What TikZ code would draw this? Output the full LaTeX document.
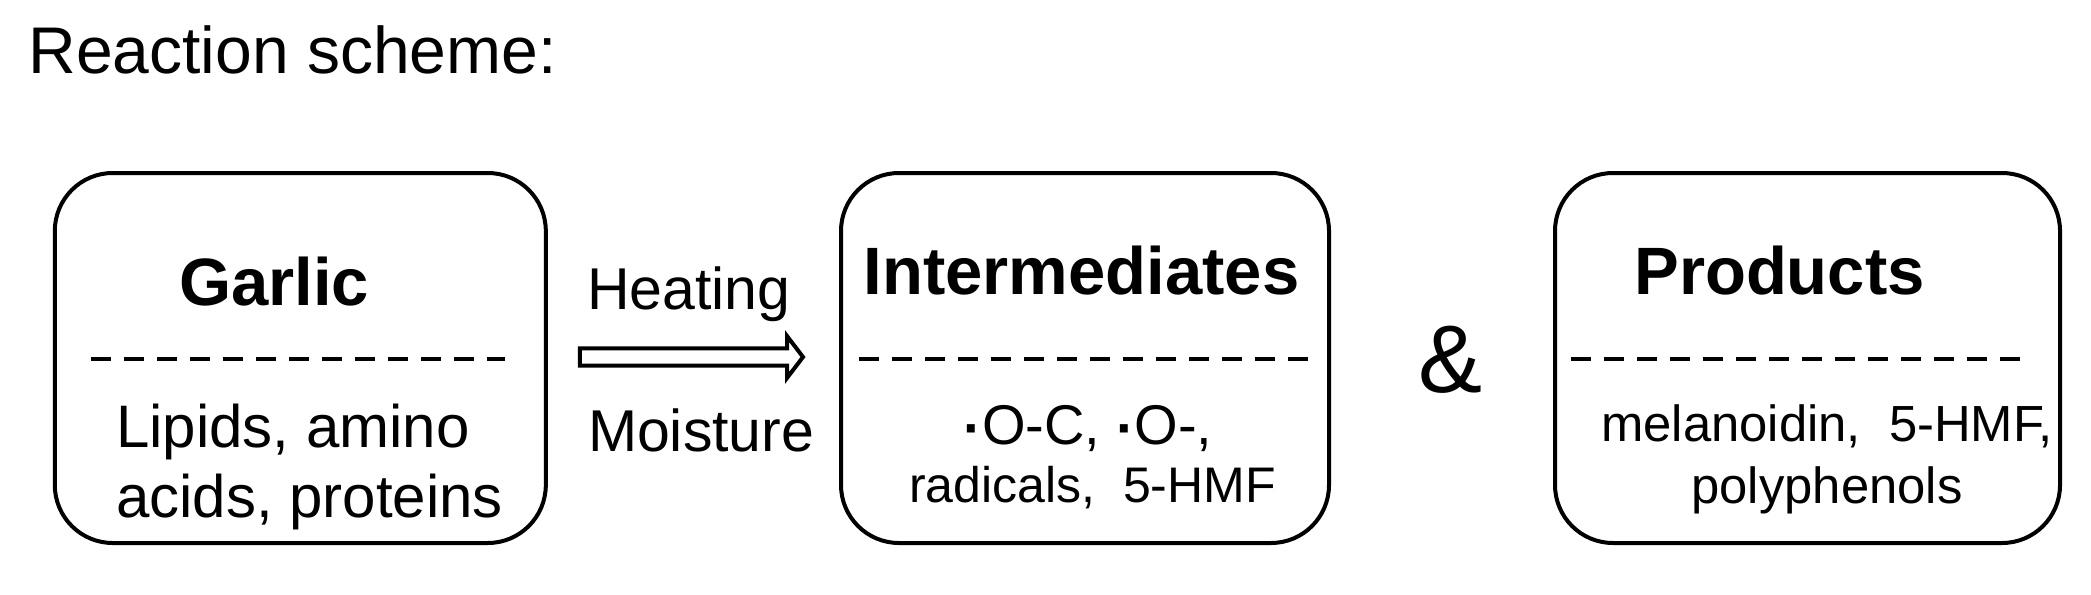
\documentclass[tikz,border=0pt]{standalone}
\usepackage{fontspec}
\setmainfont{Liberation Sans}
\usetikzlibrary{calc}
\newcommand{\fsz}[1]{\fontsize{#1}{#1}\selectfont}
\newcommand{\rdot}{\raisebox{-0.06em}{\bfseries ·}}
\begin{document}
\begin{tikzpicture}[x=0.5pt,y=-0.5pt,
  box/.style={draw, line width=2pt, rounded corners=29pt, minimum height=185pt, inner sep=0pt},
  sepline/.style={line width=2pt, dash pattern=on 9.8pt off 6.7pt},
  txt/.style={inner sep=0pt, outer sep=0pt},
  head/.style={txt, anchor=base, font=\bfseries\fsz{33.5}},
  arrowline/.style={draw, line width=2pt, line join=miter, fill=white}
]
\useasboundingbox (0,0) rectangle (2091,594);
% title
\node[txt, anchor=base west, font=\fsz{33}] (title) at (28.5,73) {Reaction scheme:};
% boxes
\node[box, minimum width=245.5pt] (b1) at (300.3,358) {};
\node[box, minimum width=244pt] (b2) at (1085,358) {};
\node[box, minimum width=252.5pt] (b3) at (1807.5,358) {};
% headers
\node[head] (h1) at (274,305) {Garlic};
\node[head] (h2) at (1081.5,294) {Intermediates};
\node[head] (h3) at (1779.5,294) {Products};
% separators
\draw[sepline] (91,359) -- (505,359);
\draw[sepline] (859,359) -- (1312,359);
\draw[sepline] (1571,359) -- (2023,359);
% box 1 body
\node[txt, anchor=base west, font=\fsz{30}] (g1) at (116,447) {Lipids, amino};
\node[txt, anchor=base west, font=\fsz{30}] (g2) at (116,517) {acids, proteins};
% box 2 body
\node[txt, anchor=base, font=\fsz{28}] (i1) at (1088,444) {\rdot O-C, \rdot O-,};
\node[txt, anchor=base, font=\fsz{25}] (i2) at (1092.5,502) {radicals,\ \ 5-HMF};
% box 3 body
\node[txt, anchor=base, font=\fsz{25.4}] (p1) at (1827,441) {melanoidin,\ \ 5-HMF,};
\node[txt, anchor=base, font=\fsz{25.4}] (p2) at (1827,503) {polyphenols};
% conditions
\node[txt, anchor=base west, font=\fsz{29.5}] (heat) at (587,309) {Heating};
\node[txt, anchor=base west, font=\fsz{29.5}] (moist) at (588,451) {Moisture};
% ampersand
\node[txt, anchor=base, font=\fsz{48}] (amp) at (1450,392) {\&};
% reaction arrow
\coordinate (as) at ($(b1.east)+(32,-1)$);
\coordinate (at) at ($(b2.west)+(-36,-1)$);
\path[arrowline] ($(as)+(0,-8.6)$) -- ($(at)+(-16,-8.6)$) -- ($(at)+(-16,-21)$) -- (at)
  -- ($(at)+(-16,21)$) -- ($(at)+(-16,8.6)$) -- ($(as)+(0,8.6)$) -- cycle;
\end{tikzpicture}
\end{document}
